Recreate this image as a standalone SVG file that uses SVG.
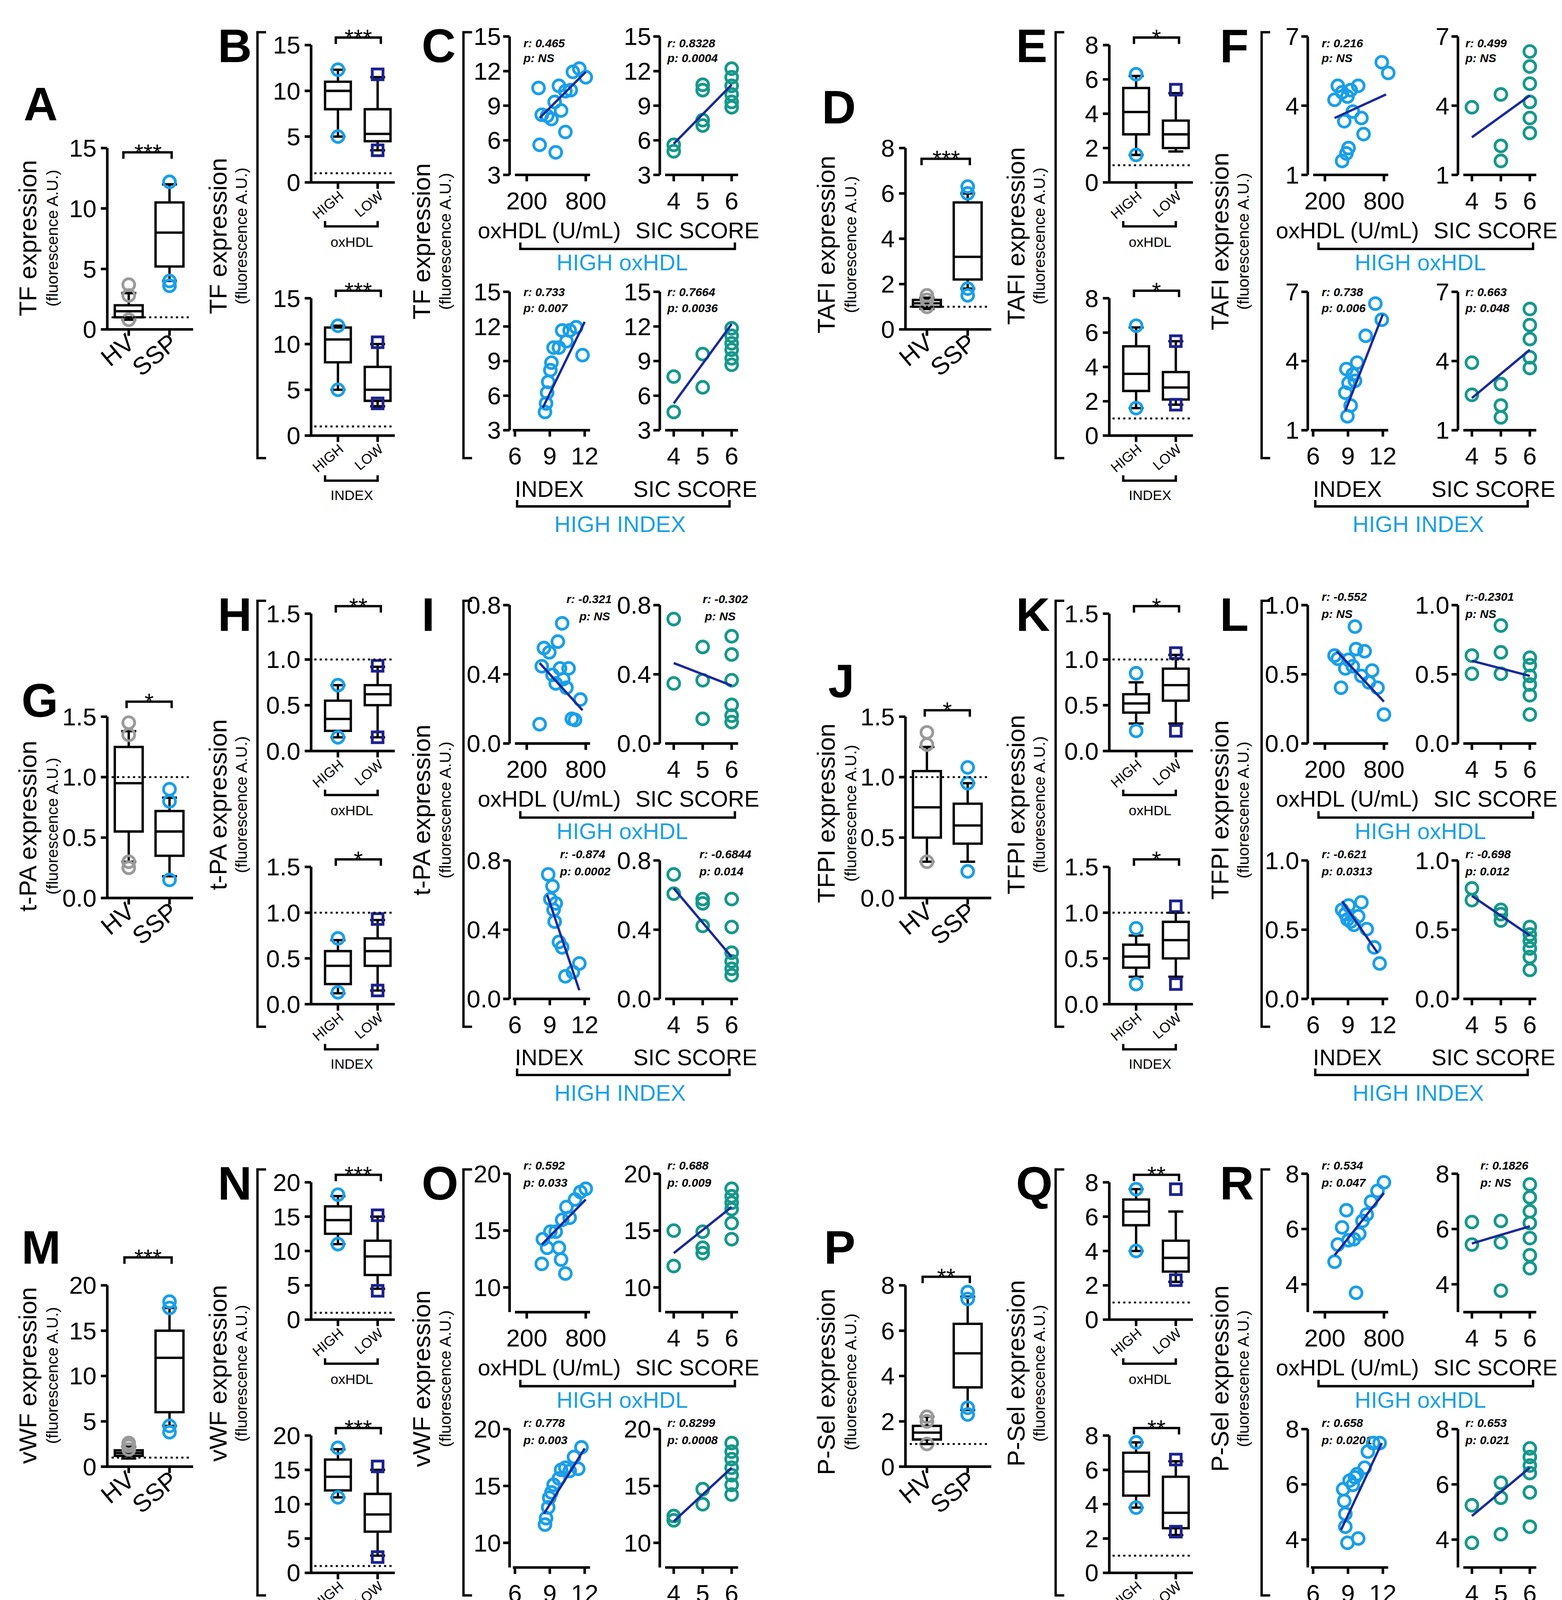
<svg xmlns="http://www.w3.org/2000/svg" width="3999" height="4306" viewBox="0 0 3999 4306">
<style>
text{font-family:"Liberation Sans",Arial,sans-serif;fill:#000}
.tr{font-size:23px;text-anchor:end}
.tm{font-size:23px;text-anchor:middle}
.te{font-size:23px;text-anchor:end}
.lt{font-size:44px;font-weight:bold}
.yl{font-size:23px;text-anchor:middle}
.ys{font-size:15px;text-anchor:middle}
.xl{font-size:21px;text-anchor:middle}
.hl{font-size:21px;text-anchor:middle;fill:#1a9fe8}
.rp{font-size:11px;font-style:italic;font-weight:bold}
.sm{font-size:13px;text-anchor:end}
.sg{font-size:13px;text-anchor:middle}
.st{font-size:22px;text-anchor:middle}
.ax{fill:none;stroke:#000;stroke-width:2.4}
.ln{fill:none;stroke:#000;stroke-width:2.2}
.dt{fill:none;stroke:#000;stroke-width:1.8;stroke-dasharray:2,3}
.cb circle{fill:none;stroke:#1a9fe8;stroke-width:2.6}
.ct circle{fill:none;stroke:#17988a;stroke-width:2.6}
.cg circle{fill:none;stroke:#9a9a9a;stroke-width:2.6}
.sq rect{fill:none;stroke:#1c2290;stroke-width:2.6}
.rg{fill:none;stroke:#1a2a99;stroke-width:2.2}
</style>
<defs>
<path id="axA4" class="ax" d="M100,138V307H180M94,138H100M94,194.3H100M94,250.7H100M94,307H100M120,307V313M158,307V313"/>
<path id="axA5" class="ax" d="M100,138V307H180M94,138H100M94,180.3H100M94,222.5H100M94,264.8H100M94,307H100M120,307V313M158,307V313"/>
<path id="axB4" class="ax" d="M290,42V170H368M284,42H290M284,84.7H290M284,127.3H290M284,170H290M315,170V176M352,170V176"/>
<path id="axB5" class="ax" d="M290,42V170H368M284,42H290M284,74H290M284,106H290M284,138H290M284,170H290M315,170V176M352,170V176"/>
<path id="sy5" class="ax" d="M0,34V163M-6,34H0M-6,66.3H0M-6,98.5H0M-6,130.8H0M-6,163H0"/>
<path id="sy3" class="ax" d="M0,34V163M-6,34H0M-6,98.5H0M-6,163H0"/>
<path id="syO" class="ax" d="M0,34V163M-6,34H0M-6,87H0M-6,140H0"/>
<path id="syR" class="ax" d="M0,34V163M-6,34H0M-6,85.5H0M-6,137H0"/>
<g id="fr">
<text class="te" transform="translate(127,322) rotate(-40)">HV</text>
<text class="te" transform="translate(167,322) rotate(-40)">SSP</text>
<path class="ln" d="M248,30H240V427H248M440,30H432V427H440"/>
<text class="sm" transform="translate(321,184) rotate(-40)">HIGH</text>
<text class="sm" transform="translate(358,184) rotate(-40)">LOW</text>
<path class="ln" d="M303,206V211H352V206"/>
<text class="sg" x="328" y="230">oxHDL</text>
<text class="sm" transform="translate(321,420) rotate(-40)">HIGH</text>
<text class="sm" transform="translate(358,420) rotate(-40)">LOW</text>
<path class="ln" d="M303,443V448H352V443"/>
<text class="sg" x="328" y="466">INDEX</text>
<path class="ax" d="M480,163H550M491,163V169M546,163V169M620,163H688M628,163V169M655,163V169M682,163V169M478,401H550M480,401V407M512.5,401V407M545,401V407M620,401H688M628,401V407M655,401V407M682,401V407"/>
<text class="tm" x="491" y="195">200</text><text class="tm" x="546" y="195">800</text>
<text class="tm" x="628" y="195">4</text><text class="tm" x="655" y="195">5</text><text class="tm" x="682" y="195">6</text>
<text class="tm" x="480" y="433">6</text><text class="tm" x="512.5" y="433">9</text><text class="tm" x="545" y="433">12</text>
<text class="tm" x="628" y="433">4</text><text class="tm" x="655" y="433">5</text><text class="tm" x="682" y="433">6</text>
<text class="xl" x="512" y="222">oxHDL (U/mL)</text><text class="xl" x="650" y="222">SIC SCORE</text>
<text class="xl" x="512" y="463">INDEX</text><text class="xl" x="648" y="463">SIC SCORE</text>
<path class="ln" d="M485,226V232H685V226M482,466V472H680V466"/>
<text class="hl" x="580" y="252">HIGH oxHDL</text>
<text class="hl" x="578" y="496">HIGH INDEX</text>
</g>
</defs>
<g transform="scale(2.7466)">
<rect x="0" y="0" width="1456" height="1568" fill="#fff"/>

<g id="tf">
<use href="#fr"/>
<text class="lt" x="22" y="112">A</text><text class="lt" x="203" y="58">B</text><text class="lt" x="393" y="58">C</text>
<text class="yl" transform="translate(34,222) rotate(-90)">TF expression</text><text class="ys" transform="translate(54,222) rotate(-90)">(fluorescence A.U.)</text>
<text class="yl" transform="translate(211,220) rotate(-90)">TF expression</text><text class="ys" transform="translate(230,220) rotate(-90)">(fluorescence A.U.)</text>
<text class="yl" transform="translate(401,225) rotate(-90)">TF expression</text><text class="ys" transform="translate(420,225) rotate(-90)">(fluorescence A.U.)</text>
<use href="#axA4"/>
<text class="tr" x="90" y="146">15</text><text class="tr" x="90" y="202.3">10</text><text class="tr" x="90" y="258.7">5</text><text class="tr" x="90" y="315">0</text>
<path class="ln" d="M113,273.2H127M120,273.2V284.5M107,284.5H133V295.7H107ZM107,290.1H133M120,295.7V298M113,298H127"/>
<path class="ln" d="M151,171.8H165M158,171.8V188.7M145,188.7H171V248.4H145ZM145,216.8H171M158,248.4V261.9M151,261.9H165"/>
<g class="cg"><circle cx="120" cy="265.3" r="5.5"/><circle cx="120" cy="275.4" r="5.5"/><circle cx="120" cy="298" r="5.5"/></g>
<g class="cb"><circle cx="158" cy="169.5" r="5.5"/><circle cx="158" cy="261.9" r="5.5"/><circle cx="158" cy="266.4" r="5.5"/></g>
<path class="dt" d="M104,295.7H176"/>
<path class="ln" d="M115,148V142H160V148"/><text class="st" x="138" y="150">***</text>
<g>
<use href="#axB4"/>
<text class="tr" x="280" y="50">15</text><text class="tr" x="280" y="92.7">10</text><text class="tr" x="280" y="135.3">5</text><text class="tr" x="280" y="178">0</text>
<path class="ln" d="M308,65H322M315,65V76.2M303,76.2H327V101.8H303ZM303,84.7H327M315,101.8V127.3M308,127.3H322"/>
<path class="ln" d="M345,71.9H359M352,71.9V101.8M340,101.8H364V131.6H340ZM340,124.8H364M352,131.6V140.1M345,140.1H359"/>
<g class="cb"><circle cx="315" cy="65" r="5.5"/><circle cx="315" cy="127.3" r="5.5"/></g>
<g class="sq"><rect x="347" y="64.3" width="10" height="10"/><rect x="347" y="135.1" width="10" height="10"/></g>
<path class="dt" d="M293,161.5H368"/>
<path class="ln" d="M313,41V35H355V41"/><text class="st" x="334" y="43">***</text>
</g>
<g transform="translate(0,236)">
<use href="#axB4"/>
<text class="tr" x="280" y="50">15</text><text class="tr" x="280" y="92.7">10</text><text class="tr" x="280" y="135.3">5</text><text class="tr" x="280" y="178">0</text>
<path class="ln" d="M308,67.6H322M315,67.6V69.3M303,69.3H327V101.7H303ZM303,80.4H327M315,101.7V127.3M308,127.3H322"/>
<path class="ln" d="M345,84.7H359M352,84.7V106M340,106H364V137.6H340ZM340,127.3H364M352,137.6V142.7M345,142.7H359"/>
<g class="cb"><circle cx="315" cy="67.6" r="5.5"/><circle cx="315" cy="127.3" r="5.5"/></g>
<g class="sq"><rect x="347" y="78" width="10" height="10"/><rect x="347" y="135" width="10" height="10"/></g>
<path class="dt" d="M293,161.5H368"/>
<path class="ln" d="M313,41V35H355V41"/><text class="st" x="334" y="43">***</text>
</g>
<use href="#sy5" x="475"/><use href="#sy5" x="615"/><use href="#sy5" x="475" y="238"/><use href="#sy5" x="615" y="238"/>
<g>
<text class="tr" x="467" y="42">15</text><text class="tr" x="467" y="74.3">12</text><text class="tr" x="467" y="106.5">9</text><text class="tr" x="467" y="138.8">6</text><text class="tr" x="467" y="171">3</text>
<text class="tr" x="607" y="42">15</text><text class="tr" x="607" y="74.3">12</text><text class="tr" x="607" y="106.5">9</text><text class="tr" x="607" y="138.8">6</text><text class="tr" x="607" y="171">3</text>
<text class="tr" x="467" y="280">15</text><text class="tr" x="467" y="312.3">12</text><text class="tr" x="467" y="344.5">9</text><text class="tr" x="467" y="376.8">6</text><text class="tr" x="467" y="409">3</text>
<text class="tr" x="607" y="280">15</text><text class="tr" x="607" y="312.3">12</text><text class="tr" x="607" y="344.5">9</text><text class="tr" x="607" y="376.8">6</text><text class="tr" x="607" y="409">3</text>
</g>
<text class="rp" x="488" y="44">r: 0.465</text><text class="rp" x="488" y="58">p: NS</text>
<text class="rp" x="622" y="44">r: 0.8328</text><text class="rp" x="622" y="58">p: 0.0004</text>
<text class="rp" x="488" y="276">r: 0.733</text><text class="rp" x="488" y="291">p: 0.007</text>
<text class="rp" x="622" y="276">r: 0.7664</text><text class="rp" x="622" y="291">p: 0.0036</text>
<g class="cb"><circle cx="502" cy="82" r="5.5"/><circle cx="505" cy="107" r="5.5"/><circle cx="510" cy="108" r="5.5"/><circle cx="517" cy="95" r="5.5"/><circle cx="523" cy="103" r="5.5"/><circle cx="527" cy="85" r="5.5"/><circle cx="532" cy="84" r="5.5"/><circle cx="534" cy="67" r="5.5"/><circle cx="540" cy="64" r="5.5"/><circle cx="546" cy="72" r="5.5"/><circle cx="514" cy="111" r="5.5"/><circle cx="503" cy="135" r="5.5"/><circle cx="518" cy="142" r="5.5"/><circle cx="527" cy="123" r="5.5"/><circle cx="521" cy="80" r="5.5"/></g>
<path class="rg" d="M503,110L546,67"/>
<g class="ct"><circle cx="628" cy="135" r="5.5"/><circle cx="628" cy="141" r="5.5"/><circle cx="655" cy="112" r="5.5"/><circle cx="655" cy="117" r="5.5"/><circle cx="655" cy="79" r="5.5"/><circle cx="655" cy="84" r="5.5"/><circle cx="682" cy="64" r="5.5"/><circle cx="682" cy="72" r="5.5"/><circle cx="682" cy="80" r="5.5"/><circle cx="682" cy="88" r="5.5"/><circle cx="682" cy="95" r="5.5"/><circle cx="682" cy="100" r="5.5"/></g>
<path class="rg" d="M628,134L682,79"/>
<g transform="translate(0,238)">
<g class="cb"><circle cx="508" cy="146" r="5.5"/><circle cx="509" cy="138" r="5.5"/><circle cx="511" cy="118" r="5.5"/><circle cx="513" cy="107" r="5.5"/><circle cx="514" cy="100" r="5.5"/><circle cx="516" cy="86" r="5.5"/><circle cx="521" cy="86" r="5.5"/><circle cx="524" cy="70" r="5.5"/><circle cx="528" cy="80" r="5.5"/><circle cx="531" cy="70" r="5.5"/><circle cx="537" cy="67" r="5.5"/><circle cx="543" cy="93" r="5.5"/><circle cx="510" cy="128" r="5.5"/></g>
<path class="rg" d="M506,142L545,62"/>
<g class="ct"><circle cx="628" cy="113" r="5.5"/><circle cx="628" cy="146" r="5.5"/><circle cx="655" cy="92" r="5.5"/><circle cx="655" cy="123" r="5.5"/><circle cx="682" cy="68" r="5.5"/><circle cx="682" cy="75" r="5.5"/><circle cx="682" cy="82" r="5.5"/><circle cx="682" cy="88" r="5.5"/><circle cx="682" cy="96" r="5.5"/><circle cx="682" cy="102" r="5.5"/></g>
<path class="rg" d="M628,138L682,64"/>
</g>
</g>

<g id="tafi" transform="translate(744,0)">
<use href="#fr"/>
<text class="lt" x="22" y="115">D</text><text class="lt" x="203" y="58">E</text><text class="lt" x="393" y="58">F</text>
<text class="yl" transform="translate(34,228) rotate(-90)">TAFI expression</text><text class="ys" transform="translate(54,228) rotate(-90)">(fluorescence A.U.)</text>
<text class="yl" transform="translate(211,220) rotate(-90)">TAFI expression</text><text class="ys" transform="translate(230,220) rotate(-90)">(fluorescence A.U.)</text>
<text class="yl" transform="translate(401,225) rotate(-90)">TAFI expression</text><text class="ys" transform="translate(420,225) rotate(-90)">(fluorescence A.U.)</text>
<use href="#axA5"/>
<text class="tr" x="90" y="146">8</text><text class="tr" x="90" y="188.3">6</text><text class="tr" x="90" y="230.5">4</text><text class="tr" x="90" y="272.8">2</text><text class="tr" x="90" y="315">0</text>
<path class="ln" d="M113,277.4H127M120,277.4V279.5M107,279.5H133V285.9H107ZM107,282.7H133M120,285.9V288M113,288H127"/>
<path class="ln" d="M151,180.3H165M158,180.3V188.7M145,188.7H171V260.5H145ZM145,239.4H171M158,260.5V269M151,269H165"/>
<g class="cg"><circle cx="120" cy="275.3" r="5.5"/><circle cx="120" cy="279.5" r="5.5"/><circle cx="120" cy="286" r="5.5"/></g>
<g class="cb"><circle cx="158" cy="173.9" r="5.5"/><circle cx="158" cy="180.3" r="5.5"/><circle cx="158" cy="269" r="5.5"/><circle cx="158" cy="275.3" r="5.5"/></g>
<path class="dt" d="M104,285.9H176"/>
<path class="ln" d="M115,154V148H160V154"/><text class="st" x="138" y="156">***</text>
<g>
<use href="#axB5"/>
<text class="tr" x="280" y="50">8</text><text class="tr" x="280" y="82">6</text><text class="tr" x="280" y="114">4</text><text class="tr" x="280" y="146">2</text><text class="tr" x="280" y="178">0</text>
<path class="ln" d="M308,70.8H322M315,70.8V82M303,82H327V125.2H303ZM303,104.4H327M315,125.2V144.4M308,144.4H322"/>
<path class="ln" d="M345,86.8H359M352,86.8V112.4M340,112.4H364V138H340ZM340,125.2H364M352,138V141.2M345,141.2H359"/>
<g class="cb"><circle cx="315" cy="69.2" r="5.5"/><circle cx="315" cy="144.4" r="5.5"/></g>
<g class="sq"><rect x="347" y="78.6" width="10" height="10"/></g>
<path class="dt" d="M293,154H368"/>
<path class="ln" d="M313,41V35H355V41"/><text class="st" x="334" y="43">*</text>
</g>
<g transform="translate(0,236)">
<use href="#axB5"/>
<text class="tr" x="280" y="50">8</text><text class="tr" x="280" y="82">6</text><text class="tr" x="280" y="114">4</text><text class="tr" x="280" y="146">2</text><text class="tr" x="280" y="178">0</text>
<path class="ln" d="M308,69.2H322M315,69.2V86.8M303,86.8H327V128.4H303ZM303,112.4H327M315,128.4V144.4M308,144.4H322"/>
<path class="ln" d="M345,82H359M352,82V110.8M340,110.8H364V136.4H340ZM340,125.2H364M352,136.4V141.2M345,141.2H359"/>
<g class="cb"><circle cx="315" cy="67.6" r="5.5"/><circle cx="315" cy="144.4" r="5.5"/></g>
<g class="sq"><rect x="347" y="77" width="10" height="10"/><rect x="347" y="136.2" width="10" height="10"/></g>
<path class="dt" d="M293,154H368"/>
<path class="ln" d="M313,41V35H355V41"/><text class="st" x="334" y="43">*</text>
</g>
<use href="#sy3" x="475"/><use href="#sy3" x="615"/><use href="#sy3" x="475" y="238"/><use href="#sy3" x="615" y="238"/>
<text class="tr" x="467" y="42">7</text><text class="tr" x="467" y="106.5">4</text><text class="tr" x="467" y="171">1</text>
<text class="tr" x="607" y="42">7</text><text class="tr" x="607" y="106.5">4</text><text class="tr" x="607" y="171">1</text>
<text class="tr" x="467" y="280">7</text><text class="tr" x="467" y="344.5">4</text><text class="tr" x="467" y="409">1</text>
<text class="tr" x="607" y="280">7</text><text class="tr" x="607" y="344.5">4</text><text class="tr" x="607" y="409">1</text>
<text class="rp" x="488" y="44">r: 0.216</text><text class="rp" x="488" y="58">p: NS</text>
<text class="rp" x="622" y="44">r: 0.499</text><text class="rp" x="622" y="58">p: NS</text>
<text class="rp" x="488" y="276">r: 0.738</text><text class="rp" x="488" y="291">p: 0.006</text>
<text class="rp" x="622" y="276">r: 0.663</text><text class="rp" x="622" y="291">p: 0.048</text>
<g class="cb"><circle cx="500" cy="93" r="5.5"/><circle cx="503" cy="80" r="5.5"/><circle cx="507" cy="86" r="5.5"/><circle cx="512" cy="90" r="5.5"/><circle cx="515" cy="84" r="5.5"/><circle cx="522" cy="80" r="5.5"/><circle cx="517" cy="104" r="5.5"/><circle cx="525" cy="110" r="5.5"/><circle cx="509" cy="113" r="5.5"/><circle cx="513" cy="138" r="5.5"/><circle cx="507" cy="150" r="5.5"/><circle cx="511" cy="143" r="5.5"/><circle cx="544" cy="58" r="5.5"/><circle cx="550" cy="68" r="5.5"/><circle cx="527" cy="125" r="5.5"/></g>
<path class="rg" d="M500,110L548,88"/>
<g class="ct"><circle cx="628" cy="100" r="5.5"/><circle cx="655" cy="88" r="5.5"/><circle cx="655" cy="136" r="5.5"/><circle cx="655" cy="150" r="5.5"/><circle cx="682" cy="48" r="5.5"/><circle cx="682" cy="62" r="5.5"/><circle cx="682" cy="78" r="5.5"/><circle cx="682" cy="95" r="5.5"/><circle cx="682" cy="110" r="5.5"/><circle cx="682" cy="124" r="5.5"/></g>
<path class="rg" d="M628,128L682,89"/>
<g transform="translate(0,238)">
<g class="cb"><circle cx="512" cy="150" r="5.5"/><circle cx="515" cy="140" r="5.5"/><circle cx="510" cy="128" r="5.5"/><circle cx="513" cy="119" r="5.5"/><circle cx="517" cy="111" r="5.5"/><circle cx="511" cy="106" r="5.5"/><circle cx="521" cy="100" r="5.5"/><circle cx="519" cy="117" r="5.5"/><circle cx="529" cy="75" r="5.5"/><circle cx="538" cy="45" r="5.5"/><circle cx="544" cy="60" r="5.5"/></g>
<path class="rg" d="M510,145L545,55"/>
<g class="ct"><circle cx="628" cy="100" r="5.5"/><circle cx="628" cy="130" r="5.5"/><circle cx="655" cy="120" r="5.5"/><circle cx="655" cy="140" r="5.5"/><circle cx="655" cy="151" r="5.5"/><circle cx="682" cy="50" r="5.5"/><circle cx="682" cy="65" r="5.5"/><circle cx="682" cy="78" r="5.5"/><circle cx="682" cy="95" r="5.5"/><circle cx="682" cy="105" r="5.5"/></g>
<path class="rg" d="M628,133L682,88"/>
</g>
</g>

<g id="tpa" transform="translate(0,530)">
<use href="#fr"/>
<text class="lt" x="20" y="138">G</text><text class="lt" x="203" y="58">H</text><text class="lt" x="393" y="58">I</text>
<text class="yl" transform="translate(34,240) rotate(-90)">t-PA expression</text><text class="ys" transform="translate(54,240) rotate(-90)">(fluorescence A.U.)</text>
<text class="yl" transform="translate(211,220) rotate(-90)">t-PA expression</text><text class="ys" transform="translate(230,220) rotate(-90)">(fluorescence A.U.)</text>
<text class="yl" transform="translate(401,225) rotate(-90)">t-PA expression</text><text class="ys" transform="translate(420,225) rotate(-90)">(fluorescence A.U.)</text>
<use href="#axA4"/>
<text class="tr" x="90" y="146">1.5</text><text class="tr" x="90" y="202.3">1.0</text><text class="tr" x="90" y="258.7">0.5</text><text class="tr" x="90" y="315">0.0</text>
<path class="ln" d="M113,151.5H127M120,151.5V166.2M107,166.2H133V245H107ZM107,200H133M120,245V273.2M113,273.2H127"/>
<path class="ln" d="M151,213.5H165M158,213.5V225.9M145,225.9H171V267.6H145ZM145,245H171M158,267.6V286.7M151,286.7H165"/>
<g class="cg"><circle cx="120" cy="143.6" r="5.5"/><circle cx="120" cy="154.9" r="5.5"/><circle cx="120" cy="273.2" r="5.5"/><circle cx="120" cy="278.8" r="5.5"/></g>
<g class="cb"><circle cx="158" cy="205.6" r="5.5"/><circle cx="158" cy="216.9" r="5.5"/><circle cx="158" cy="290.1" r="5.5"/></g>
<path class="dt" d="M104,194.3H176"/>
<path class="ln" d="M118,130V124H160V130"/><text class="st" x="139" y="132">*</text>
<g>
<use href="#axB4"/>
<text class="tr" x="280" y="50">1.5</text><text class="tr" x="280" y="92.7">1.0</text><text class="tr" x="280" y="135.3">0.5</text><text class="tr" x="280" y="178">0.0</text>
<path class="ln" d="M308,108.6H322M315,108.6V123.1M303,123.1H327V151.2H303ZM303,140.1H327M315,151.2V157.2M308,157.2H322"/>
<path class="ln" d="M345,91.5H359M352,91.5V108.6M340,108.6H364V127.3H340ZM340,117.1H364M352,127.3V157.2M345,157.2H359"/>
<g class="cb"><circle cx="315" cy="108.6" r="5.5"/><circle cx="315" cy="157.2" r="5.5"/></g>
<g class="sq"><rect x="347" y="85.6" width="10" height="10"/><rect x="347" y="152.2" width="10" height="10"/></g>
<path class="dt" d="M293,84.7H368"/>
<path class="ln" d="M313,41V35H355V41"/><text class="st" x="334" y="43">**</text>
</g>
<g transform="translate(0,236)">
<use href="#axB4"/>
<text class="tr" x="280" y="50">1.5</text><text class="tr" x="280" y="92.7">1.0</text><text class="tr" x="280" y="135.3">0.5</text><text class="tr" x="280" y="178">0.0</text>
<path class="ln" d="M308,110.3H322M315,110.3V120.5M303,120.5H327V151.2H303ZM303,134.2H327M315,151.2V159.8M308,159.8H322"/>
<path class="ln" d="M345,91.5H359M352,91.5V108.6M340,108.6H364V134.2H340ZM340,120.5H364M352,134.2V157.2M345,157.2H359"/>
<g class="cb"><circle cx="315" cy="108.6" r="5.5"/><circle cx="315" cy="158.9" r="5.5"/></g>
<g class="sq"><rect x="347" y="85.6" width="10" height="10"/><rect x="347" y="152.2" width="10" height="10"/></g>
<path class="dt" d="M293,84.7H368"/>
<path class="ln" d="M313,41V35H355V41"/><text class="st" x="334" y="43">*</text>
</g>
<use href="#sy3" x="475"/><use href="#sy3" x="615"/><use href="#sy3" x="475" y="238"/><use href="#sy3" x="615" y="238"/>
<text class="tr" x="467" y="42">0.8</text><text class="tr" x="467" y="106.5">0.4</text><text class="tr" x="467" y="171">0.0</text>
<text class="tr" x="607" y="42">0.8</text><text class="tr" x="607" y="106.5">0.4</text><text class="tr" x="607" y="171">0.0</text>
<text class="tr" x="467" y="280">0.8</text><text class="tr" x="467" y="344.5">0.4</text><text class="tr" x="467" y="409">0.0</text>
<text class="tr" x="607" y="280">0.8</text><text class="tr" x="607" y="344.5">0.4</text><text class="tr" x="607" y="409">0.0</text>
<text class="rp" x="528" y="32">r: -0.321</text><text class="rp" x="540" y="48">p: NS</text>
<text class="rp" x="655" y="32">r: -0.302</text><text class="rp" x="657" y="48">p: NS</text>
<text class="rp" x="522" y="270">r: -0.874</text><text class="rp" x="522" y="286">p: 0.0002</text>
<text class="rp" x="652" y="270">r: -0.6844</text><text class="rp" x="652" y="286">p: 0.014</text>
<g class="cb"><circle cx="503" cy="145" r="5.5"/><circle cx="505" cy="91" r="5.5"/><circle cx="507" cy="74" r="5.5"/><circle cx="512" cy="78" r="5.5"/><circle cx="515" cy="99" r="5.5"/><circle cx="518" cy="107" r="5.5"/><circle cx="520" cy="68" r="5.5"/><circle cx="522" cy="93" r="5.5"/><circle cx="525" cy="103" r="5.5"/><circle cx="528" cy="111" r="5.5"/><circle cx="530" cy="93" r="5.5"/><circle cx="533" cy="140" r="5.5"/><circle cx="536" cy="141" r="5.5"/><circle cx="541" cy="122" r="5.5"/><circle cx="524" cy="51" r="5.5"/></g>
<path class="rg" d="M503,88L543,132"/>
<g class="ct"><circle cx="628" cy="107" r="5.5"/><circle cx="628" cy="47" r="5.5"/><circle cx="655" cy="104" r="5.5"/><circle cx="655" cy="73" r="5.5"/><circle cx="655" cy="140" r="5.5"/><circle cx="682" cy="63" r="5.5"/><circle cx="682" cy="80" r="5.5"/><circle cx="682" cy="104" r="5.5"/><circle cx="682" cy="127" r="5.5"/><circle cx="682" cy="137" r="5.5"/><circle cx="682" cy="143" r="5.5"/></g>
<path class="rg" d="M628,88L682,109"/>
<g transform="translate(0,238)">
<g class="cb"><circle cx="511" cy="47" r="5.5"/><circle cx="513" cy="70" r="5.5"/><circle cx="516" cy="80" r="5.5"/><circle cx="515" cy="58" r="5.5"/><circle cx="517" cy="91" r="5.5"/><circle cx="521" cy="110" r="5.5"/><circle cx="524" cy="115" r="5.5"/><circle cx="527" cy="142" r="5.5"/><circle cx="534" cy="138" r="5.5"/><circle cx="540" cy="130" r="5.5"/><circle cx="518" cy="74" r="5.5"/></g>
<path class="rg" d="M510,66L540,155"/>
<g class="ct"><circle cx="628" cy="47" r="5.5"/><circle cx="628" cy="65" r="5.5"/><circle cx="655" cy="70" r="5.5"/><circle cx="655" cy="74" r="5.5"/><circle cx="655" cy="95" r="5.5"/><circle cx="682" cy="70" r="5.5"/><circle cx="682" cy="96" r="5.5"/><circle cx="682" cy="120" r="5.5"/><circle cx="682" cy="128" r="5.5"/><circle cx="682" cy="135" r="5.5"/><circle cx="682" cy="141" r="5.5"/></g>
<path class="rg" d="M628,60L682,124"/>
</g>
</g>

<g id="tfpi" transform="translate(744,530)">
<use href="#fr"/>
<text class="lt" x="28" y="120">J</text><text class="lt" x="203" y="58">K</text><text class="lt" x="393" y="58">L</text>
<text class="yl" transform="translate(34,228) rotate(-90)">TFPI expression</text><text class="ys" transform="translate(54,228) rotate(-90)">(fluorescence A.U.)</text>
<text class="yl" transform="translate(211,220) rotate(-90)">TFPI expression</text><text class="ys" transform="translate(230,220) rotate(-90)">(fluorescence A.U.)</text>
<text class="yl" transform="translate(401,225) rotate(-90)">TFPI expression</text><text class="ys" transform="translate(420,225) rotate(-90)">(fluorescence A.U.)</text>
<use href="#axA4"/>
<text class="tr" x="90" y="146">1.5</text><text class="tr" x="90" y="202.3">1.0</text><text class="tr" x="90" y="258.7">0.5</text><text class="tr" x="90" y="315">0.0</text>
<path class="ln" d="M113,166.2H127M120,166.2V188.7M107,188.7H133V250.7H107ZM107,222.5H133M120,250.7V273.2M113,273.2H127"/>
<path class="ln" d="M151,200H165M158,200V219.1M145,219.1H171V256.3H145ZM145,239.4H171M158,256.3V273.2M151,273.2H165"/>
<g class="cg"><circle cx="120" cy="152.6" r="5.5"/><circle cx="120" cy="164" r="5.5"/><circle cx="120" cy="273.2" r="5.5"/></g>
<g class="cb"><circle cx="158" cy="185.3" r="5.5"/><circle cx="158" cy="200" r="5.5"/><circle cx="158" cy="282.2" r="5.5"/></g>
<path class="dt" d="M104,194.3H176"/>
<path class="ln" d="M118,138V132H160V138"/><text class="st" x="139" y="140">*</text>
<g>
<use href="#axB4"/>
<text class="tr" x="280" y="50">1.5</text><text class="tr" x="280" y="92.7">1.0</text><text class="tr" x="280" y="135.3">0.5</text><text class="tr" x="280" y="178">0.0</text>
<path class="ln" d="M308,106H322M315,106V117.1M303,117.1H327V134.2H303ZM303,125.6H327M315,134.2V144.4M308,144.4H322"/>
<path class="ln" d="M345,80.4H359M352,80.4V93.2M340,93.2H364V123.1H340ZM340,108.6H364M352,123.1V144.4M345,144.4H359"/>
<g class="cb"><circle cx="315" cy="97.5" r="5.5"/><circle cx="315" cy="151.2" r="5.5"/></g>
<g class="sq"><rect x="347" y="73.7" width="10" height="10"/><rect x="347" y="146.2" width="10" height="10"/></g>
<path class="dt" d="M293,84.7H368"/>
<path class="ln" d="M313,41V35H355V41"/><text class="st" x="334" y="43">*</text>
</g>
<g transform="translate(0,236)">
<use href="#axB4"/>
<text class="tr" x="280" y="50">1.5</text><text class="tr" x="280" y="92.7">1.0</text><text class="tr" x="280" y="135.3">0.5</text><text class="tr" x="280" y="178">0.0</text>
<path class="ln" d="M308,106H322M315,106V114.5M303,114.5H327V135.9H303ZM303,125.6H327M315,135.9V144.4M308,144.4H322"/>
<path class="ln" d="M345,84.7H359M352,84.7V93.2M340,93.2H364V127.3H340ZM340,110.3H364M352,127.3V144.4M345,144.4H359"/>
<g class="cb"><circle cx="315" cy="99.2" r="5.5"/><circle cx="315" cy="151.2" r="5.5"/></g>
<g class="sq"><rect x="347" y="73.7" width="10" height="10"/><rect x="347" y="146.2" width="10" height="10"/></g>
<path class="dt" d="M293,84.7H368"/>
<path class="ln" d="M313,41V35H355V41"/><text class="st" x="334" y="43">*</text>
</g>
<use href="#sy3" x="475"/><use href="#sy3" x="615"/><use href="#sy3" x="475" y="238"/><use href="#sy3" x="615" y="238"/>
<text class="tr" x="467" y="42">1.0</text><text class="tr" x="467" y="106.5">0.5</text><text class="tr" x="467" y="171">0.0</text>
<text class="tr" x="607" y="42">1.0</text><text class="tr" x="607" y="106.5">0.5</text><text class="tr" x="607" y="171">0.0</text>
<text class="tr" x="467" y="280">1.0</text><text class="tr" x="467" y="344.5">0.5</text><text class="tr" x="467" y="409">0.0</text>
<text class="tr" x="607" y="280">1.0</text><text class="tr" x="607" y="344.5">0.5</text><text class="tr" x="607" y="409">0.0</text>
<text class="rp" x="488" y="30">r: -0.552</text><text class="rp" x="488" y="46">p: NS</text>
<text class="rp" x="622" y="30">r:-0.2301</text><text class="rp" x="622" y="46">p: NS</text>
<text class="rp" x="488" y="270">r: -0.621</text><text class="rp" x="488" y="286">p: 0.0313</text>
<text class="rp" x="622" y="270">r: -0.698</text><text class="rp" x="622" y="286">p: 0.012</text>
<g class="cb"><circle cx="500" cy="81" r="5.5"/><circle cx="503" cy="84" r="5.5"/><circle cx="506" cy="111" r="5.5"/><circle cx="513" cy="85" r="5.5"/><circle cx="517" cy="91" r="5.5"/><circle cx="520" cy="75" r="5.5"/><circle cx="525" cy="100" r="5.5"/><circle cx="528" cy="77" r="5.5"/><circle cx="532" cy="106" r="5.5"/><circle cx="535" cy="95" r="5.5"/><circle cx="540" cy="111" r="5.5"/><circle cx="546" cy="136" r="5.5"/><circle cx="519" cy="54" r="5.5"/><circle cx="510" cy="93" r="5.5"/></g>
<path class="rg" d="M502,77L546,124"/>
<g class="ct"><circle cx="628" cy="81" r="5.5"/><circle cx="628" cy="98" r="5.5"/><circle cx="655" cy="78" r="5.5"/><circle cx="655" cy="98" r="5.5"/><circle cx="655" cy="53" r="5.5"/><circle cx="682" cy="83" r="5.5"/><circle cx="682" cy="90" r="5.5"/><circle cx="682" cy="100" r="5.5"/><circle cx="682" cy="108" r="5.5"/><circle cx="682" cy="118" r="5.5"/><circle cx="682" cy="136" r="5.5"/></g>
<path class="rg" d="M628,86L682,100"/>
<g transform="translate(0,238)">
<g class="cb"><circle cx="507" cy="80" r="5.5"/><circle cx="510" cy="84" r="5.5"/><circle cx="512" cy="89" r="5.5"/><circle cx="515" cy="91" r="5.5"/><circle cx="513" cy="76" r="5.5"/><circle cx="518" cy="94" r="5.5"/><circle cx="522" cy="86" r="5.5"/><circle cx="530" cy="98" r="5.5"/><circle cx="537" cy="115" r="5.5"/><circle cx="542" cy="130" r="5.5"/><circle cx="525" cy="73" r="5.5"/></g>
<path class="rg" d="M507,72L540,120"/>
<g class="ct"><circle cx="628" cy="60" r="5.5"/><circle cx="628" cy="71" r="5.5"/><circle cx="655" cy="80" r="5.5"/><circle cx="655" cy="84" r="5.5"/><circle cx="655" cy="90" r="5.5"/><circle cx="682" cy="96" r="5.5"/><circle cx="682" cy="103" r="5.5"/><circle cx="682" cy="109" r="5.5"/><circle cx="682" cy="116" r="5.5"/><circle cx="682" cy="124" r="5.5"/><circle cx="682" cy="136" r="5.5"/></g>
<path class="rg" d="M628,67L682,104"/>
</g>
</g>

<g id="vwf" transform="translate(0,1060)">
<use href="#fr"/>
<text class="lt" x="20" y="118">M</text><text class="lt" x="203" y="58">N</text><text class="lt" x="393" y="58">O</text>
<text class="yl" transform="translate(34,222) rotate(-90)">vWF expression</text><text class="ys" transform="translate(54,222) rotate(-90)">(fluorescence A.U.)</text>
<text class="yl" transform="translate(211,220) rotate(-90)">vWF expression</text><text class="ys" transform="translate(230,220) rotate(-90)">(fluorescence A.U.)</text>
<text class="yl" transform="translate(401,225) rotate(-90)">vWF expression</text><text class="ys" transform="translate(420,225) rotate(-90)">(fluorescence A.U.)</text>
<use href="#axA5"/>
<text class="tr" x="90" y="146">20</text><text class="tr" x="90" y="188.3">15</text><text class="tr" x="90" y="230.5">10</text><text class="tr" x="90" y="272.8">5</text><text class="tr" x="90" y="315">0</text>
<path class="ln" d="M113,288.4H127M120,288.4V291.8M107,291.8H133V296.9H107ZM107,294.3H133M120,296.9V299.4M113,299.4H127"/>
<path class="ln" d="M151,159.1H165M158,159.1V180.3M145,180.3H171V256.3H145ZM145,205.6H171M158,256.3V269M151,269H165"/>
<g class="cg"><circle cx="120" cy="285" r="5.5"/><circle cx="120" cy="287.6" r="5.5"/><circle cx="120" cy="291" r="5.5"/></g>
<g class="cb"><circle cx="158" cy="153.2" r="5.5"/><circle cx="158" cy="159.1" r="5.5"/><circle cx="158" cy="269" r="5.5"/><circle cx="158" cy="274.9" r="5.5"/></g>
<path class="dt" d="M104,298.6H176"/>
<path class="ln" d="M116,118V112H160V118"/><text class="st" x="138" y="120">***</text>
<g>
<use href="#axB5"/>
<text class="tr" x="280" y="50">20</text><text class="tr" x="280" y="82">15</text><text class="tr" x="280" y="114">10</text><text class="tr" x="280" y="146">5</text><text class="tr" x="280" y="178">0</text>
<path class="ln" d="M308,54.8H322M315,54.8V64.4M303,64.4H327V90H303ZM303,77.2H327M315,90V99.6M308,99.6H322"/>
<path class="ln" d="M345,74H359M352,74V96.4M340,96.4H364V128.4H340ZM340,111.1H364M352,128.4V141.2M345,141.2H359"/>
<g class="cb"><circle cx="315" cy="53.5" r="5.5"/><circle cx="315" cy="99.6" r="5.5"/></g>
<g class="sq"><rect x="347" y="67.7" width="10" height="10"/><rect x="347" y="138.1" width="10" height="10"/></g>
<path class="dt" d="M293,163.6H368"/>
<path class="ln" d="M313,41V35H355V41"/><text class="st" x="334" y="43">***</text>
</g>
<g transform="translate(0,236)">
<use href="#axB5"/>
<text class="tr" x="280" y="50">20</text><text class="tr" x="280" y="82">15</text><text class="tr" x="280" y="114">10</text><text class="tr" x="280" y="146">5</text><text class="tr" x="280" y="178">0</text>
<path class="ln" d="M308,54.8H322M315,54.8V64.4M303,64.4H327V93.2H303ZM303,80.4H327M315,93.2V99.6M308,99.6H322"/>
<path class="ln" d="M345,74H359M352,74V96.4M340,96.4H364V131.6H340ZM340,115.6H364M352,131.6V154M345,154H359"/>
<g class="cb"><circle cx="315" cy="53.5" r="5.5"/><circle cx="315" cy="99.6" r="5.5"/></g>
<g class="sq"><rect x="347" y="65.8" width="10" height="10"/><rect x="347" y="150.3" width="10" height="10"/></g>
<path class="dt" d="M293,163.6H368"/>
<path class="ln" d="M313,41V35H355V41"/><text class="st" x="334" y="43">***</text>
</g>
<use href="#syO" x="475"/><use href="#syO" x="615"/><use href="#syO" x="475" y="238"/><use href="#syO" x="615" y="238"/>
<text class="tr" x="467" y="42">20</text><text class="tr" x="467" y="95">15</text><text class="tr" x="467" y="148">10</text>
<text class="tr" x="607" y="42">20</text><text class="tr" x="607" y="95">15</text><text class="tr" x="607" y="148">10</text>
<text class="tr" x="467" y="280">20</text><text class="tr" x="467" y="333">15</text><text class="tr" x="467" y="386">10</text>
<text class="tr" x="607" y="280">20</text><text class="tr" x="607" y="333">15</text><text class="tr" x="607" y="386">10</text>
<text class="rp" x="488" y="30">r: 0.592</text><text class="rp" x="488" y="46">p: 0.033</text>
<text class="rp" x="622" y="30">r: 0.688</text><text class="rp" x="622" y="46">p: 0.009</text>
<text class="rp" x="488" y="270">r: 0.778</text><text class="rp" x="488" y="286">p: 0.003</text>
<text class="rp" x="622" y="270">r: 0.8299</text><text class="rp" x="622" y="286">p: 0.0008</text>
<g class="cb"><circle cx="506" cy="95" r="5.5"/><circle cx="510" cy="103" r="5.5"/><circle cx="505" cy="118" r="5.5"/><circle cx="513" cy="88" r="5.5"/><circle cx="518" cy="88" r="5.5"/><circle cx="521" cy="103" r="5.5"/><circle cx="524" cy="77" r="5.5"/><circle cx="528" cy="65" r="5.5"/><circle cx="531" cy="75" r="5.5"/><circle cx="536" cy="58" r="5.5"/><circle cx="541" cy="51" r="5.5"/><circle cx="523" cy="114" r="5.5"/><circle cx="527" cy="127" r="5.5"/><circle cx="546" cy="48" r="5.5"/></g>
<path class="rg" d="M505,100L546,58"/>
<g class="ct"><circle cx="628" cy="87" r="5.5"/><circle cx="628" cy="120" r="5.5"/><circle cx="655" cy="88" r="5.5"/><circle cx="655" cy="103" r="5.5"/><circle cx="655" cy="108" r="5.5"/><circle cx="682" cy="48" r="5.5"/><circle cx="682" cy="55" r="5.5"/><circle cx="682" cy="61" r="5.5"/><circle cx="682" cy="67" r="5.5"/><circle cx="682" cy="80" r="5.5"/><circle cx="682" cy="95" r="5.5"/></g>
<path class="rg" d="M628,108L682,65"/>
<g transform="translate(0,238)">
<g class="cb"><circle cx="508" cy="123" r="5.5"/><circle cx="509" cy="117" r="5.5"/><circle cx="511" cy="107" r="5.5"/><circle cx="512" cy="98" r="5.5"/><circle cx="514" cy="93" r="5.5"/><circle cx="516" cy="86" r="5.5"/><circle cx="521" cy="80" r="5.5"/><circle cx="523" cy="72" r="5.5"/><circle cx="527" cy="70" r="5.5"/><circle cx="531" cy="73" r="5.5"/><circle cx="535" cy="60" r="5.5"/><circle cx="542" cy="51" r="5.5"/><circle cx="539" cy="71" r="5.5"/></g>
<path class="rg" d="M507,113L545,52"/>
<g class="ct"><circle cx="628" cy="115" r="5.5"/><circle cx="628" cy="119" r="5.5"/><circle cx="655" cy="104" r="5.5"/><circle cx="655" cy="90" r="5.5"/><circle cx="682" cy="47" r="5.5"/><circle cx="682" cy="55" r="5.5"/><circle cx="682" cy="62" r="5.5"/><circle cx="682" cy="70" r="5.5"/><circle cx="682" cy="77" r="5.5"/><circle cx="682" cy="86" r="5.5"/><circle cx="682" cy="95" r="5.5"/></g>
<path class="rg" d="M628,120L682,70"/>
</g>
</g>

<g id="psel" transform="translate(744,1060)">
<use href="#fr"/>
<text class="lt" x="24" y="118">P</text><text class="lt" x="203" y="58">Q</text><text class="lt" x="393" y="58">R</text>
<text class="yl" transform="translate(34,228) rotate(-90)">P-Sel expression</text><text class="ys" transform="translate(54,228) rotate(-90)">(fluorescence A.U.)</text>
<text class="yl" transform="translate(211,220) rotate(-90)">P-Sel expression</text><text class="ys" transform="translate(230,220) rotate(-90)">(fluorescence A.U.)</text>
<text class="yl" transform="translate(401,225) rotate(-90)">P-Sel expression</text><text class="ys" transform="translate(420,225) rotate(-90)">(fluorescence A.U.)</text>
<use href="#axA5"/>
<text class="tr" x="90" y="146">8</text><text class="tr" x="90" y="188.3">6</text><text class="tr" x="90" y="230.5">4</text><text class="tr" x="90" y="272.8">2</text><text class="tr" x="90" y="315">0</text>
<path class="ln" d="M113,260.5H127M120,260.5V269M107,269H133V281.7H107ZM107,275.3H133M120,281.7V285.9M113,285.9H127"/>
<path class="ln" d="M151,148.6H165M158,148.6V173.9M145,173.9H171V233.1H145ZM145,201.4H171M158,233.1V254.2M151,254.2H165"/>
<g class="cg"><circle cx="120" cy="260.5" r="5.5"/><circle cx="120" cy="264.8" r="5.5"/><circle cx="120" cy="285.9" r="5.5"/></g>
<g class="cb"><circle cx="158" cy="144.3" r="5.5"/><circle cx="158" cy="150.7" r="5.5"/><circle cx="158" cy="252.1" r="5.5"/><circle cx="158" cy="258.4" r="5.5"/></g>
<path class="dt" d="M104,285.9H176"/>
<path class="ln" d="M116,136V130H160V136"/><text class="st" x="138" y="138">**</text>
<g>
<use href="#axB5"/>
<text class="tr" x="280" y="50">8</text><text class="tr" x="280" y="82">6</text><text class="tr" x="280" y="114">4</text><text class="tr" x="280" y="146">2</text><text class="tr" x="280" y="178">0</text>
<path class="ln" d="M308,48.4H322M315,48.4V58M303,58H327V82H303ZM303,69.2H327M315,82V106M308,106H322"/>
<path class="ln" d="M345,69.2H359M352,69.2V96.4M340,96.4H364V125.2H340ZM340,112.4H364M352,125.2V134.8M345,134.8H359"/>
<g class="cb"><circle cx="315" cy="48.4" r="5.5"/><circle cx="315" cy="106" r="5.5"/></g>
<g class="sq"><rect x="347" y="43.4" width="10" height="10"/><rect x="347" y="128.2" width="10" height="10"/></g>
<path class="dt" d="M293,154H368"/>
<path class="ln" d="M313,41V35H355V41"/><text class="st" x="334" y="43">**</text>
</g>
<g transform="translate(0,236)">
<use href="#axB5"/>
<text class="tr" x="280" y="50">8</text><text class="tr" x="280" y="82">6</text><text class="tr" x="280" y="114">4</text><text class="tr" x="280" y="146">2</text><text class="tr" x="280" y="178">0</text>
<path class="ln" d="M308,48.4H322M315,48.4V58M303,58H327V98H303ZM303,75.6H327M315,98V109.2M308,109.2H322"/>
<path class="ln" d="M345,66H359M352,66V80.4M340,80.4H364V128.4H340ZM340,114H364M352,128.4V134.8M345,134.8H359"/>
<g class="cb"><circle cx="315" cy="48.4" r="5.5"/><circle cx="315" cy="109.2" r="5.5"/></g>
<g class="sq"><rect x="347" y="59.4" width="10" height="10"/><rect x="347" y="126.6" width="10" height="10"/></g>
<path class="dt" d="M293,154H368"/>
<path class="ln" d="M313,41V35H355V41"/><text class="st" x="334" y="43">**</text>
</g>
<use href="#syR" x="475"/><use href="#syR" x="615"/><use href="#syR" x="475" y="238"/><use href="#syR" x="615" y="238"/>
<text class="tr" x="467" y="42">8</text><text class="tr" x="467" y="93.5">6</text><text class="tr" x="467" y="145">4</text>
<text class="tr" x="607" y="42">8</text><text class="tr" x="607" y="93.5">6</text><text class="tr" x="607" y="145">4</text>
<text class="tr" x="467" y="280">8</text><text class="tr" x="467" y="331.5">6</text><text class="tr" x="467" y="383">4</text>
<text class="tr" x="607" y="280">8</text><text class="tr" x="607" y="331.5">6</text><text class="tr" x="607" y="383">4</text>
<text class="rp" x="488" y="30">r: 0.534</text><text class="rp" x="488" y="46">p: 0.047</text>
<text class="rp" x="636" y="30">r: 0.1826</text><text class="rp" x="636" y="46">p: NS</text>
<text class="rp" x="488" y="270">r: 0.658</text><text class="rp" x="488" y="286">p: 0.0201</text>
<text class="rp" x="622" y="270">r: 0.653</text><text class="rp" x="622" y="286">p: 0.021</text>
<g class="cb"><circle cx="500" cy="116" r="5.5"/><circle cx="503" cy="100" r="5.5"/><circle cx="507" cy="84" r="5.5"/><circle cx="511" cy="68" r="5.5"/><circle cx="513" cy="96" r="5.5"/><circle cx="518" cy="95" r="5.5"/><circle cx="520" cy="145" r="5.5"/><circle cx="523" cy="90" r="5.5"/><circle cx="526" cy="78" r="5.5"/><circle cx="530" cy="72" r="5.5"/><circle cx="534" cy="60" r="5.5"/><circle cx="540" cy="50" r="5.5"/><circle cx="546" cy="42" r="5.5"/></g>
<path class="rg" d="M500,110L546,52"/>
<g class="ct"><circle cx="628" cy="79" r="5.5"/><circle cx="628" cy="100" r="5.5"/><circle cx="655" cy="78" r="5.5"/><circle cx="655" cy="98" r="5.5"/><circle cx="655" cy="143" r="5.5"/><circle cx="682" cy="44" r="5.5"/><circle cx="682" cy="56" r="5.5"/><circle cx="682" cy="69" r="5.5"/><circle cx="682" cy="80" r="5.5"/><circle cx="682" cy="94" r="5.5"/><circle cx="682" cy="110" r="5.5"/><circle cx="682" cy="122" r="5.5"/></g>
<path class="rg" d="M628,99L682,83"/>
<g transform="translate(0,238)">
<g class="cb"><circle cx="508" cy="90" r="5.5"/><circle cx="509" cy="101" r="5.5"/><circle cx="510" cy="113" r="5.5"/><circle cx="510" cy="125" r="5.5"/><circle cx="512" cy="140" r="5.5"/><circle cx="514" cy="82" r="5.5"/><circle cx="517" cy="86" r="5.5"/><circle cx="519" cy="79" r="5.5"/><circle cx="521" cy="76" r="5.5"/><circle cx="522" cy="136" r="5.5"/><circle cx="528" cy="70" r="5.5"/><circle cx="531" cy="55" r="5.5"/><circle cx="536" cy="47" r="5.5"/><circle cx="542" cy="47" r="5.5"/></g>
<path class="rg" d="M506,128L544,47"/>
<g class="ct"><circle cx="628" cy="105" r="5.5"/><circle cx="628" cy="140" r="5.5"/><circle cx="655" cy="84" r="5.5"/><circle cx="655" cy="98" r="5.5"/><circle cx="655" cy="132" r="5.5"/><circle cx="682" cy="52" r="5.5"/><circle cx="682" cy="60" r="5.5"/><circle cx="682" cy="68" r="5.5"/><circle cx="682" cy="75" r="5.5"/><circle cx="682" cy="93" r="5.5"/><circle cx="682" cy="125" r="5.5"/></g>
<path class="rg" d="M628,115L682,70"/>
</g>
</g>
</g>
</svg>
